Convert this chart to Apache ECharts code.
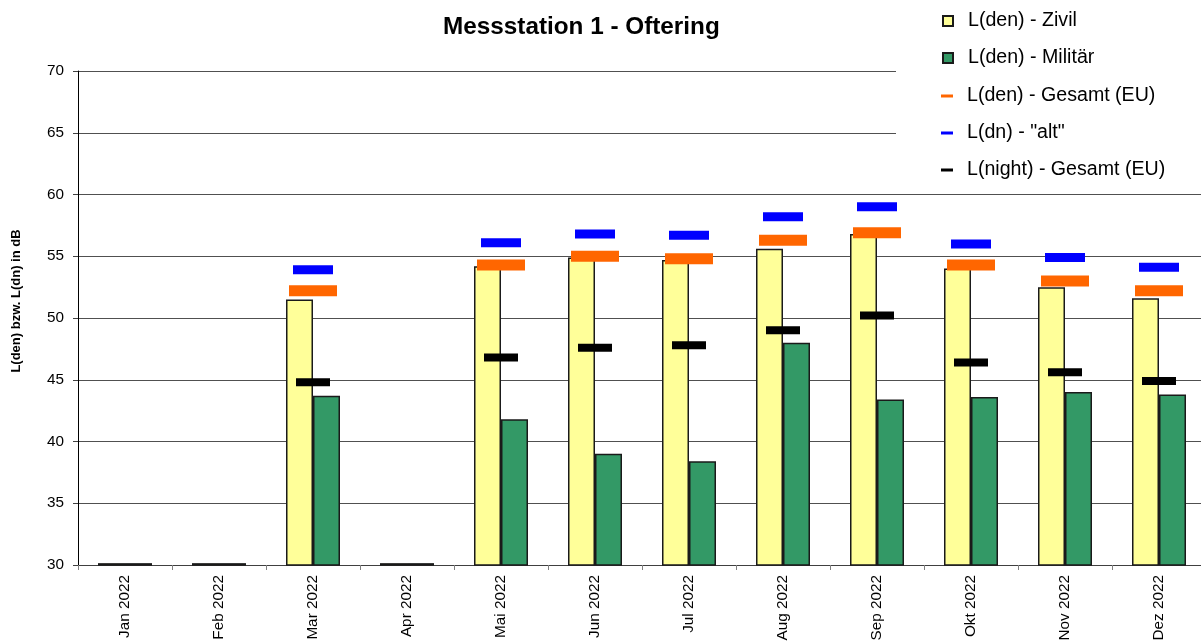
<!DOCTYPE html>
<html>
<head>
<meta charset="utf-8">
<title>Messstation 1 - Oftering</title>
<script src="https://cdn.jsdelivr.net/npm/echarts@6/dist/echarts.min.js"></script>
<style>
  html, body { margin: 0; padding: 0; background: #fff; }
  #messstation { width: 1201px; height: 642px; }
</style>
</head>
<body>
<div id="messstation"></div>
<script>
// Monate
const months = ['Jan 2022', 'Feb 2022', 'Mar 2022', 'Apr 2022', 'Mai 2022', 'Jun 2022',
  'Jul 2022', 'Aug 2022', 'Sep 2022', 'Okt 2022', 'Nov 2022', 'Dez 2022']

// Werte in dB (Jan, Feb, Apr ohne Messung -> nur ein Strich auf der Grundlinie)
const lDenZivil = [30.15, 30.15, 51.5, 30.15, 54.2, 54.9, 54.7, 55.6, 56.8, 54.0, 52.5, 51.6]
const lDenMilitaer = [30.15, 30.15, 43.7, 30.15, 41.8, 39.0, 38.4, 48.0, 43.4, 43.6, 44.0, 43.8]
const lDenGesamt = [null, null, 52.2, null, 54.3, 55.0, 54.8, 56.3, 56.9, 54.3, 53.0, 52.2]
const lDnAlt = [null, null, 53.9, null, 56.1, 56.8, 56.7, 58.2, 59.0, 56.0, 54.9, 54.1]
const lNightGesamt = [null, null, 44.8, null, 46.8, 47.6, 47.8, 49.0, 50.2, 46.4, 45.6, 44.9]

const yTicks = { min: 30, max: 70, interval: 5 }

const font = 'Liberation Sans, Arial, sans-serif'

const myChart = echarts.init(document.getElementById('messstation'), null, { renderer: 'canvas' })

const option = {
  animation: false,
  textStyle: { fontFamily: font },
  title: {
    text: 'Messstation 1 - Oftering',
    left: 438,
    top: 10,
    textStyle: { fontFamily: font, fontSize: 24.3, fontWeight: 'bold', color: '#000' }
  },
  graphic: [
    {
      type: 'rect',
      right: 0,
      top: 0,
      z: 10,
      shape: { width: 305, height: 188 },
      style: { fill: '#fff' }
    }
  ],
  legend: [
    {
      orient: 'vertical',
      left: 937,
      top: 6,
      z: 20,
      itemWidth: 10,
      itemHeight: 10,
      itemGap: 17,
      icon: 'rect',
      data: ['L(den) - Zivil', 'L(den) - Militär'],
      textStyle: { fontFamily: font, fontSize: 19.6, color: '#000', lineHeight: 20, padding: [0, 0, 0, 10] }
    },
    {
      orient: 'vertical',
      left: 936,
      top: 81,
      z: 20,
      itemWidth: 12,
      itemHeight: 3,
      itemGap: 17,
      icon: 'rect',
      data: ['L(den) - Gesamt (EU)', 'L(dn) - "alt"', 'L(night) - Gesamt (EU)'],
      textStyle: { fontFamily: font, fontSize: 19.6, color: '#000', lineHeight: 20, padding: [0, 0, 0, 9] }
    }
  ],
  grid: {
    left: 78,
    top: 71,
    bottom: 77,
    width: 1128,
    outerBoundsMode: 'none'
  },
  xAxis: {
    type: 'category',
    data: months,
    boundaryGap: true,
    axisLine: { show: true, lineStyle: { color: '#404040', width: 1 } },
    axisTick: { show: true, length: 5, lineStyle: { color: '#808080' } },
    axisLabel: { rotate: 90, fontSize: 15.3, margin: 10, color: '#000', fontFamily: font, interval: 0 },
    splitLine: { show: false }
  },
  yAxis: {
    type: 'value',
    min: yTicks.min,
    max: yTicks.max,
    interval: yTicks.interval,
    name: 'L(den) bzw. L(dn) in dB',
    nameLocation: 'middle',
    nameGap: 55,
    nameRotate: 90,
    nameTextStyle: { fontFamily: font, fontSize: 13, fontWeight: 'bold', color: '#000', padding: [0, 0, 0, 34] },
    axisLine: { show: true, lineStyle: { color: '#000', width: 1 } },
    axisTick: { show: true, length: 5, lineStyle: { color: '#404040' } },
    axisLabel: { fontSize: 15.3, margin: 14, color: '#000', fontFamily: font },
    splitLine: { show: true, lineStyle: { color: '#505050', width: 1 } }
  },
  series: [
    {
      name: 'L(den) - Zivil',
      type: 'bar',
      data: lDenZivil,
      barWidth: 27,
      barGap: '0%',
      itemStyle: { color: '#FFFF99', borderColor: '#1a1a1a', borderWidth: 1.5 }
    },
    {
      name: 'L(den) - Militär',
      type: 'bar',
      data: lDenMilitaer,
      barWidth: 27,
      barGap: '0%',
      itemStyle: { color: '#339966', borderColor: '#1a1a1a', borderWidth: 1.5 }
    },
    {
      name: 'L(den) - Gesamt (EU)',
      type: 'scatter',
      data: lDenGesamt,
      symbol: 'rect',
      symbolSize: [48, 11],
      z: 3,
      itemStyle: { color: '#FF6600', opacity: 1 }
    },
    {
      name: 'L(dn) - "alt"',
      type: 'scatter',
      data: lDnAlt,
      symbol: 'rect',
      symbolSize: [40, 9],
      z: 3,
      itemStyle: { color: '#0000FF', opacity: 1 }
    },
    {
      name: 'L(night) - Gesamt (EU)',
      type: 'scatter',
      data: lNightGesamt,
      symbol: 'rect',
      symbolSize: [34, 8],
      z: 3,
      itemStyle: { color: '#000000', opacity: 1 }
    }
  ]
}

myChart.setOption(option)
</script>
</body>
</html>
